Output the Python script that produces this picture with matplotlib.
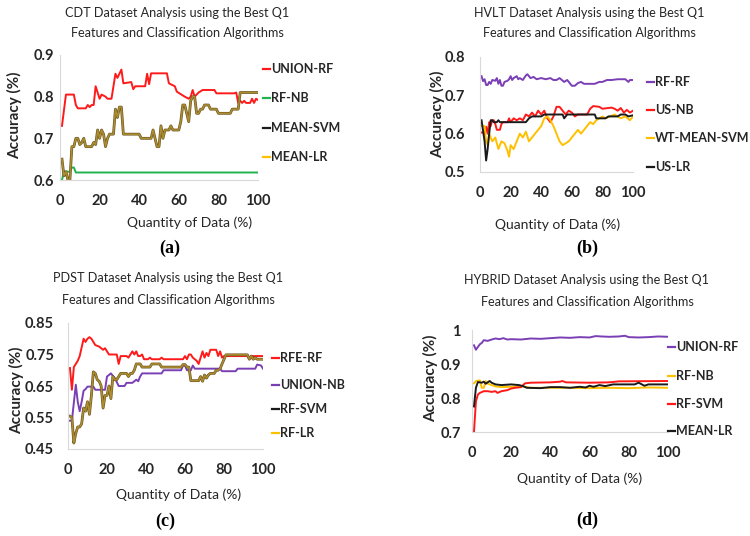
import numpy as np
import matplotlib
matplotlib.use("Agg")
import matplotlib.pyplot as plt
from matplotlib.lines import Line2D

plt.rcParams['font.family'] = ['Lato', 'DejaVu Sans']

W, H = 750, 536

# ---------------------------------------------------------------
# data (x = quantity of data %, y = accuracy)
# ---------------------------------------------------------------
a_union_rf = [(1, 0.73), (3, 0.805), (7, 0.805), (8, 0.78), (9, 0.772), (13, 0.772), (14, 0.78),
              (15, 0.775), (16, 0.78), (17, 0.78), (18, 0.825), (20, 0.795), (21, 0.805), (23, 0.80),
              (24, 0.795), (26, 0.795), (28, 0.855), (29, 0.845), (31, 0.865), (32, 0.832), (36, 0.835),
              (37, 0.818), (38, 0.825), (43, 0.825), (44, 0.855), (45, 0.83), (46, 0.856), (54, 0.856),
              (55, 0.832), (58, 0.825), (59, 0.812), (63, 0.80), (65, 0.795), (66, 0.80), (67, 0.816),
              (68, 0.80), (70, 0.81), (72, 0.816), (78, 0.816), (79, 0.808), (88, 0.808), (89, 0.81),
              (90, 0.785), (91, 0.79), (92, 0.785), (93, 0.79), (94, 0.785), (96, 0.785), (97, 0.795),
              (98, 0.785), (99, 0.795), (100, 0.792)]
a_rf_nb = [(1, 0.60), (2, 0.62), (5, 0.62), (6, 0.63), (7, 0.63), (8, 0.618), (100, 0.618)]
a_mean = [(1, 0.65), (2, 0.61), (3, 0.62), (4, 0.60), (5, 0.60), (6, 0.68), (7, 0.68), (8, 0.70),
          (9, 0.70), (10, 0.685), (11, 0.69), (12, 0.70), (13, 0.68), (16, 0.68), (17, 0.69),
          (18, 0.685), (19, 0.72), (20, 0.70), (21, 0.72), (22, 0.71), (23, 0.68), (24, 0.70),
          (25, 0.71), (27, 0.71), (28, 0.77), (29, 0.75), (30, 0.775), (31, 0.775), (32, 0.71),
          (40, 0.71), (41, 0.70), (46, 0.70), (47, 0.72), (49, 0.68), (50, 0.68), (51, 0.73),
          (52, 0.70), (53, 0.72), (55, 0.72), (56, 0.73), (57, 0.72), (60, 0.72), (61, 0.74),
          (62, 0.78), (63, 0.78), (64, 0.76), (65, 0.74), (66, 0.79), (67, 0.80), (68, 0.80),
          (69, 0.76), (70, 0.76), (71, 0.77), (72, 0.77), (73, 0.78), (75, 0.78), (76, 0.77),
          (79, 0.77), (80, 0.76), (86, 0.76), (87, 0.77), (90, 0.77), (91, 0.81), (100, 0.81)]

b_rf_rf = [(1, 0.75), (2, 0.737), (3, 0.742), (4, 0.727), (5, 0.727), (6, 0.735), (7, 0.73),
           (8, 0.74), (10, 0.738), (11, 0.745), (12, 0.73), (13, 0.74), (14, 0.725), (15, 0.725),
           (16, 0.735), (18, 0.738), (19, 0.742), (20, 0.75), (21, 0.74), (22, 0.745), (24, 0.75),
           (25, 0.742), (26, 0.745), (28, 0.74), (30, 0.752), (31, 0.755), (33, 0.745), (35, 0.748),
           (37, 0.742), (40, 0.745), (43, 0.742), (46, 0.745), (48, 0.74), (50, 0.74), (52, 0.745),
           (55, 0.735), (57, 0.74), (60, 0.725), (62, 0.725), (64, 0.732), (66, 0.735), (68, 0.73),
           (72, 0.73), (75, 0.73), (78, 0.735), (80, 0.735), (83, 0.74), (86, 0.74), (90, 0.742),
           (93, 0.742), (95, 0.742), (97, 0.735), (98, 0.74), (100, 0.74)]
b_us_nb = [(1, 0.603), (2, 0.603), (3, 0.598), (4, 0.618), (5, 0.60), (6, 0.63), (7, 0.62),
           (8, 0.635), (9, 0.635), (10, 0.625), (11, 0.61), (13, 0.61), (14, 0.625), (15, 0.63),
           (18, 0.63), (19, 0.64), (20, 0.63), (22, 0.64), (24, 0.635), (26, 0.64), (28, 0.635),
           (30, 0.65), (32, 0.645), (34, 0.655), (36, 0.645), (38, 0.66), (40, 0.65), (42, 0.66),
           (44, 0.64), (46, 0.63), (48, 0.645), (50, 0.67), (52, 0.67), (54, 0.66), (56, 0.65),
           (58, 0.66), (60, 0.655), (62, 0.645), (64, 0.65), (70, 0.65), (72, 0.665), (74, 0.672),
           (78, 0.67), (80, 0.665), (86, 0.668), (88, 0.665), (90, 0.66), (92, 0.667), (94, 0.655),
           (96, 0.662), (98, 0.655), (100, 0.66)]
b_wt_mean_svm = [(1, 0.62), (3, 0.62), (4, 0.58), (5, 0.57), (6, 0.60), (7, 0.59), (8, 0.58),
                 (10, 0.59), (12, 0.56), (14, 0.58), (16, 0.575), (18, 0.555), (19, 0.54), (20, 0.57),
                 (22, 0.56), (24, 0.58), (26, 0.60), (28, 0.59), (30, 0.605), (32, 0.58), (34, 0.59),
                 (36, 0.60), (38, 0.61), (40, 0.62), (42, 0.64), (44, 0.645), (46, 0.635), (48, 0.62),
                 (50, 0.60), (52, 0.58), (54, 0.57), (56, 0.575), (58, 0.58), (60, 0.59), (62, 0.60),
                 (64, 0.61), (66, 0.60), (68, 0.61), (70, 0.62), (72, 0.63), (74, 0.625), (76, 0.635),
                 (78, 0.64), (80, 0.645), (82, 0.64), (85, 0.645), (88, 0.65), (92, 0.64), (95, 0.645),
                 (98, 0.635), (100, 0.645)]
b_us_lr = [(1, 0.635), (3, 0.58), (4, 0.53), (5, 0.56), (6, 0.60), (7, 0.635), (8, 0.635),
           (9, 0.63), (11, 0.63), (12, 0.635), (13, 0.63), (30, 0.63), (32, 0.64), (34, 0.645),
           (40, 0.645), (42, 0.65), (54, 0.65), (55, 0.64), (57, 0.65), (75, 0.65), (76, 0.64),
           (82, 0.64), (84, 0.645), (90, 0.645), (92, 0.65), (95, 0.65), (97, 0.645), (100, 0.648)]

c_rfe_rf = [(1, 0.707), (2, 0.638), (3, 0.71), (4, 0.72), (5, 0.73), (6, 0.745), (8, 0.80),
            (9, 0.79), (10, 0.80), (11, 0.805), (12, 0.80), (13, 0.79), (14, 0.78), (16, 0.775),
            (17, 0.77), (18, 0.765), (19, 0.77), (20, 0.76), (21, 0.75), (25, 0.75), (26, 0.72),
            (27, 0.745), (30, 0.745), (31, 0.74), (32, 0.75), (33, 0.76), (34, 0.75), (35, 0.76),
            (36, 0.745), (37, 0.745), (38, 0.75), (39, 0.735), (41, 0.735), (42, 0.74), (43, 0.735),
            (47, 0.735), (48, 0.74), (49, 0.735), (59, 0.735), (60, 0.745), (61, 0.735), (62, 0.75),
            (63, 0.75), (64, 0.74), (66, 0.73), (67, 0.72), (68, 0.74), (69, 0.76), (70, 0.74),
            (71, 0.755), (72, 0.745), (73, 0.765), (76, 0.765), (77, 0.745), (78, 0.76), (79, 0.74),
            (80, 0.745), (92, 0.745), (93, 0.735), (94, 0.745), (100, 0.745)]
c_union_nb = [(1, 0.54), (2, 0.54), (4, 0.654), (5, 0.60), (6, 0.57), (7, 0.60), (8, 0.635),
              (9, 0.64), (10, 0.648), (13, 0.648), (14, 0.638), (19, 0.638), (20, 0.68), (22, 0.69),
              (24, 0.675), (26, 0.65), (29, 0.65), (30, 0.66), (33, 0.66), (34, 0.665), (35, 0.67),
              (36, 0.665), (37, 0.68), (38, 0.69), (48, 0.69), (49, 0.70), (58, 0.70), (59, 0.715),
              (60, 0.715), (61, 0.70), (63, 0.70), (64, 0.715), (65, 0.705), (78, 0.705), (79, 0.697),
              (86, 0.697), (87, 0.705), (96, 0.705), (97, 0.718), (99, 0.715), (100, 0.705)]
c_rf = [(1, 0.554), (2, 0.55), (3, 0.469), (4, 0.50), (5, 0.52), (6, 0.52), (7, 0.53), (8, 0.58),
        (9, 0.57), (10, 0.60), (11, 0.56), (12, 0.62), (13, 0.695), (14, 0.69), (15, 0.67),
        (16, 0.665), (17, 0.65), (18, 0.58), (19, 0.62), (20, 0.62), (21, 0.65), (22, 0.61),
        (23, 0.68), (24, 0.67), (25, 0.67), (26, 0.68), (27, 0.69), (30, 0.69), (31, 0.68),
        (32, 0.69), (33, 0.69), (34, 0.70), (35, 0.72), (37, 0.72), (38, 0.71), (42, 0.71),
        (43, 0.72), (47, 0.72), (48, 0.71), (58, 0.71), (59, 0.718), (60, 0.718), (61, 0.71),
        (62, 0.71), (63, 0.667), (67, 0.667), (68, 0.68), (69, 0.665), (70, 0.685), (71, 0.675),
        (72, 0.685), (73, 0.69), (75, 0.69), (76, 0.70), (77, 0.70), (78, 0.705), (79, 0.72),
        (81, 0.749), (92, 0.749), (93, 0.735), (94, 0.745), (95, 0.735), (96, 0.74), (97, 0.735),
        (100, 0.735)]

d_union_rf = [(1, 0.955), (2, 0.942), (3, 0.95), (4, 0.958), (5, 0.962), (6, 0.97), (8, 0.968),
              (10, 0.972), (12, 0.975), (14, 0.973), (16, 0.976), (18, 0.972), (20, 0.973), (25, 0.972),
              (30, 0.975), (35, 0.974), (40, 0.976), (45, 0.978), (50, 0.977), (55, 0.979), (60, 0.978),
              (63, 0.982), (66, 0.981), (70, 0.98), (75, 0.981), (78, 0.983), (80, 0.979), (85, 0.978),
              (90, 0.979), (95, 0.981), (100, 0.98)]
d_rf_nb = [(1, 0.843), (2, 0.85), (4, 0.852), (5, 0.83), (6, 0.83), (7, 0.85), (8, 0.842),
           (10, 0.838), (12, 0.834), (15, 0.832), (20, 0.833), (25, 0.835), (30, 0.83), (40, 0.83),
           (50, 0.83), (60, 0.829), (70, 0.83), (80, 0.829), (90, 0.831), (100, 0.83)]
d_rf_svm = [(1, 0.70), (2, 0.79), (3, 0.81), (4, 0.815), (6, 0.82), (8, 0.82), (10, 0.818),
            (12, 0.82), (13, 0.815), (15, 0.82), (18, 0.823), (20, 0.828), (22, 0.83), (25, 0.832),
            (27, 0.843), (30, 0.845), (40, 0.846), (45, 0.848), (46, 0.85), (48, 0.846), (60, 0.845),
            (70, 0.846), (75, 0.849), (100, 0.85)]
d_mean_lr = [(1, 0.775), (2, 0.83), (3, 0.847), (5, 0.845), (6, 0.848), (7, 0.842), (9, 0.85),
             (10, 0.845), (12, 0.84), (15, 0.838), (20, 0.84), (24, 0.838), (26, 0.835), (28, 0.83),
             (35, 0.829), (40, 0.832), (45, 0.832), (50, 0.83), (55, 0.833), (58, 0.831), (60, 0.836),
             (62, 0.833), (65, 0.838), (68, 0.835), (72, 0.84), (80, 0.84), (83, 0.84), (85, 0.845),
             (88, 0.836), (90, 0.84), (95, 0.84), (100, 0.84)]

RED, GREEN, PURPLE, GOLD, BLACK = '#ff1a1a', '#22b14c', '#7a3fb5', '#ffc000', '#1a1a1a'

xticks = [0, 20, 40, 60, 80, 100]

# panel layout in pixels: plot box, y range, ticks, pads, text positions
panels = [
    dict(box=(60, 55, 258, 180), ylim=(0.6, 0.9), yticks=[0.6, 0.7, 0.8, 0.9],
         ylabels=['0.6', '0.7', '0.8', '0.9'], ypad=4,
         title='CDT Dataset Analysis using the Best Q1', tcx=177, ty=(13, 33),
         ylab=(15, 115), xlab=(190, 223), tag='(a)', tagpos=(170, 248),
         series=[('UNION-RF', a_union_rf, RED), ('RF-NB', a_rf_nb, GREEN),
                 ('MEAN-SVM', a_mean, BLACK), ('MEAN-LR', a_mean, GOLD)],
         leg_x=263, leg_y=[69, 98, 128, 157]),
    dict(box=(480, 57, 633, 172), ylim=(0.5, 0.8), yticks=[0.5, 0.6, 0.7, 0.8],
         ylabels=['0.5', '0.6', '0.7', '0.8'], ypad=11,
         title='HVLT Dataset Analysis using the Best Q1', tcx=589, ty=(13, 33),
         ylab=(438, 114), xlab=(558, 225), tag='(b)', tagpos=(587, 248),
         series=[('RF-RF', b_rf_rf, PURPLE), ('US-NB', b_us_nb, RED),
                 ('WT-MEAN-SVM', b_wt_mean_svm, GOLD), ('US-LR', b_us_lr, BLACK)],
         leg_x=647, leg_y=[82, 110, 138, 167]),
    dict(box=(68, 323, 263, 449), ylim=(0.45, 0.85), yticks=[0.45, 0.55, 0.65, 0.75, 0.85],
         ylabels=['0.45', '0.55', '0.65', '0.75', '0.85'], ypad=10,
         title='PDST Dataset Analysis using the Best Q1', tcx=168, ty=(278, 300),
         ylab=(17, 390), xlab=(179, 495), tag='(c)', tagpos=(165, 521),
         series=[('RFE-RF', c_rfe_rf, RED), ('UNION-NB', c_union_nb, PURPLE),
                 ('RF-SVM', c_rf, BLACK), ('RF-LR', c_rf, GOLD)],
         leg_x=272, leg_y=[358, 385, 409, 433]),
    dict(box=(472, 330, 668, 432), ylim=(0.7, 1.0), yticks=[0.7, 0.8, 0.9, 1.0],
         ylabels=['0.7', '0.8', '0.9', '1'], ypad=8,
         title='HYBRID Dataset Analysis using the Best Q1', tcx=587, ty=(280, 302),
         ylab=(431, 378), xlab=(580, 479), tag='(d)', tagpos=(587, 520),
         series=[('UNION-RF', d_union_rf, PURPLE), ('RF-NB', d_rf_nb, GOLD),
                 ('RF-SVM', d_rf_svm, RED), ('MEAN-LR', d_mean_lr, BLACK)],
         leg_x=668, leg_y=[347, 376, 404, 431]),
]


def fx(x):
    return x / W


def fy(y):
    return 1 - y / H


fig = plt.figure(figsize=(W / 100, H / 100), dpi=100)
fig.patch.set_facecolor('white')

for p in panels:
    x0, y0, x1, y1 = p['box']
    ax = fig.add_axes([fx(x0), fy(y1), (x1 - x0) / W, (y1 - y0) / H])
    ax.set_xlim(0, 100)
    ax.set_ylim(*p['ylim'])
    ax.set_xticks(xticks)
    ax.set_yticks(p['yticks'])
    ax.set_yticklabels(p['ylabels'])
    for s in ('top', 'right'):
        ax.spines[s].set_visible(False)
    for s in ('left', 'bottom'):
        ax.spines[s].set_color('#d9d9d9')
        ax.spines[s].set_linewidth(0.8)
    ax.tick_params(axis='both', length=0, labelsize=10.5, colors='#262626')
    ax.tick_params(axis='y', pad=p['ypad'])
    ax.tick_params(axis='x', pad=10)
    for lab in ax.get_xticklabels() + ax.get_yticklabels():
        lab.set_fontweight('bold')

    # in (a) and (c) the SVM and LR lines coincide: dark line with gold on top
    mean_pair = p['series'][2][1] is p['series'][3][1]
    for i, (name, pts, col) in enumerate(p['series']):
        xs, ys = np.array(pts).T
        if mean_pair and i == 2:
            ax.plot(xs, ys, color='#6b5824', lw=2.0, solid_joinstyle='round', zorder=2)
        elif mean_pair and i == 3:
            ax.plot(xs, ys, color='#ad8d30', lw=1.1, solid_joinstyle='round', zorder=3)
        else:
            ax.plot(xs, ys, color=col, lw=1.4, solid_joinstyle='round', zorder=2)

    # legend (Excel style: short line + label)
    for (name, pts, col), ly in zip(p['series'], p['leg_y']):
        fig.add_artist(Line2D([fx(p['leg_x']), fx(p['leg_x'] + 7)], [fy(ly), fy(ly)],
                              color=col, lw=1.6))
        fig.text(fx(p['leg_x'] + 8), fy(ly), name, fontsize=9, fontweight='bold',
                 color='#262626', va='center', ha='left')

    fig.text(fx(p['tcx']), fy(p['ty'][0]), p['title'], fontsize=9.1, ha='center',
             va='center', color='#262626')
    fig.text(fx(p['tcx']), fy(p['ty'][1]), 'Features and Classification Algorithms',
             fontsize=9.1, ha='center', va='center', color='#262626')
    fig.text(fx(p['ylab'][0]), fy(p['ylab'][1]), 'Accuracy (%)', rotation=90, fontsize=11,
             fontweight='bold', ha='center', va='center', color='#262626')
    fig.text(fx(p['xlab'][0]), fy(p['xlab'][1]), 'Quantity of Data (%)', fontsize=10,
             ha='center', va='center', color='#262626')
    fig.text(fx(p['tagpos'][0]), fy(p['tagpos'][1]), p['tag'], fontsize=13,
             fontweight='bold', family='Liberation Serif', ha='center', va='center')

fig.savefig('out.png', dpi=100)
